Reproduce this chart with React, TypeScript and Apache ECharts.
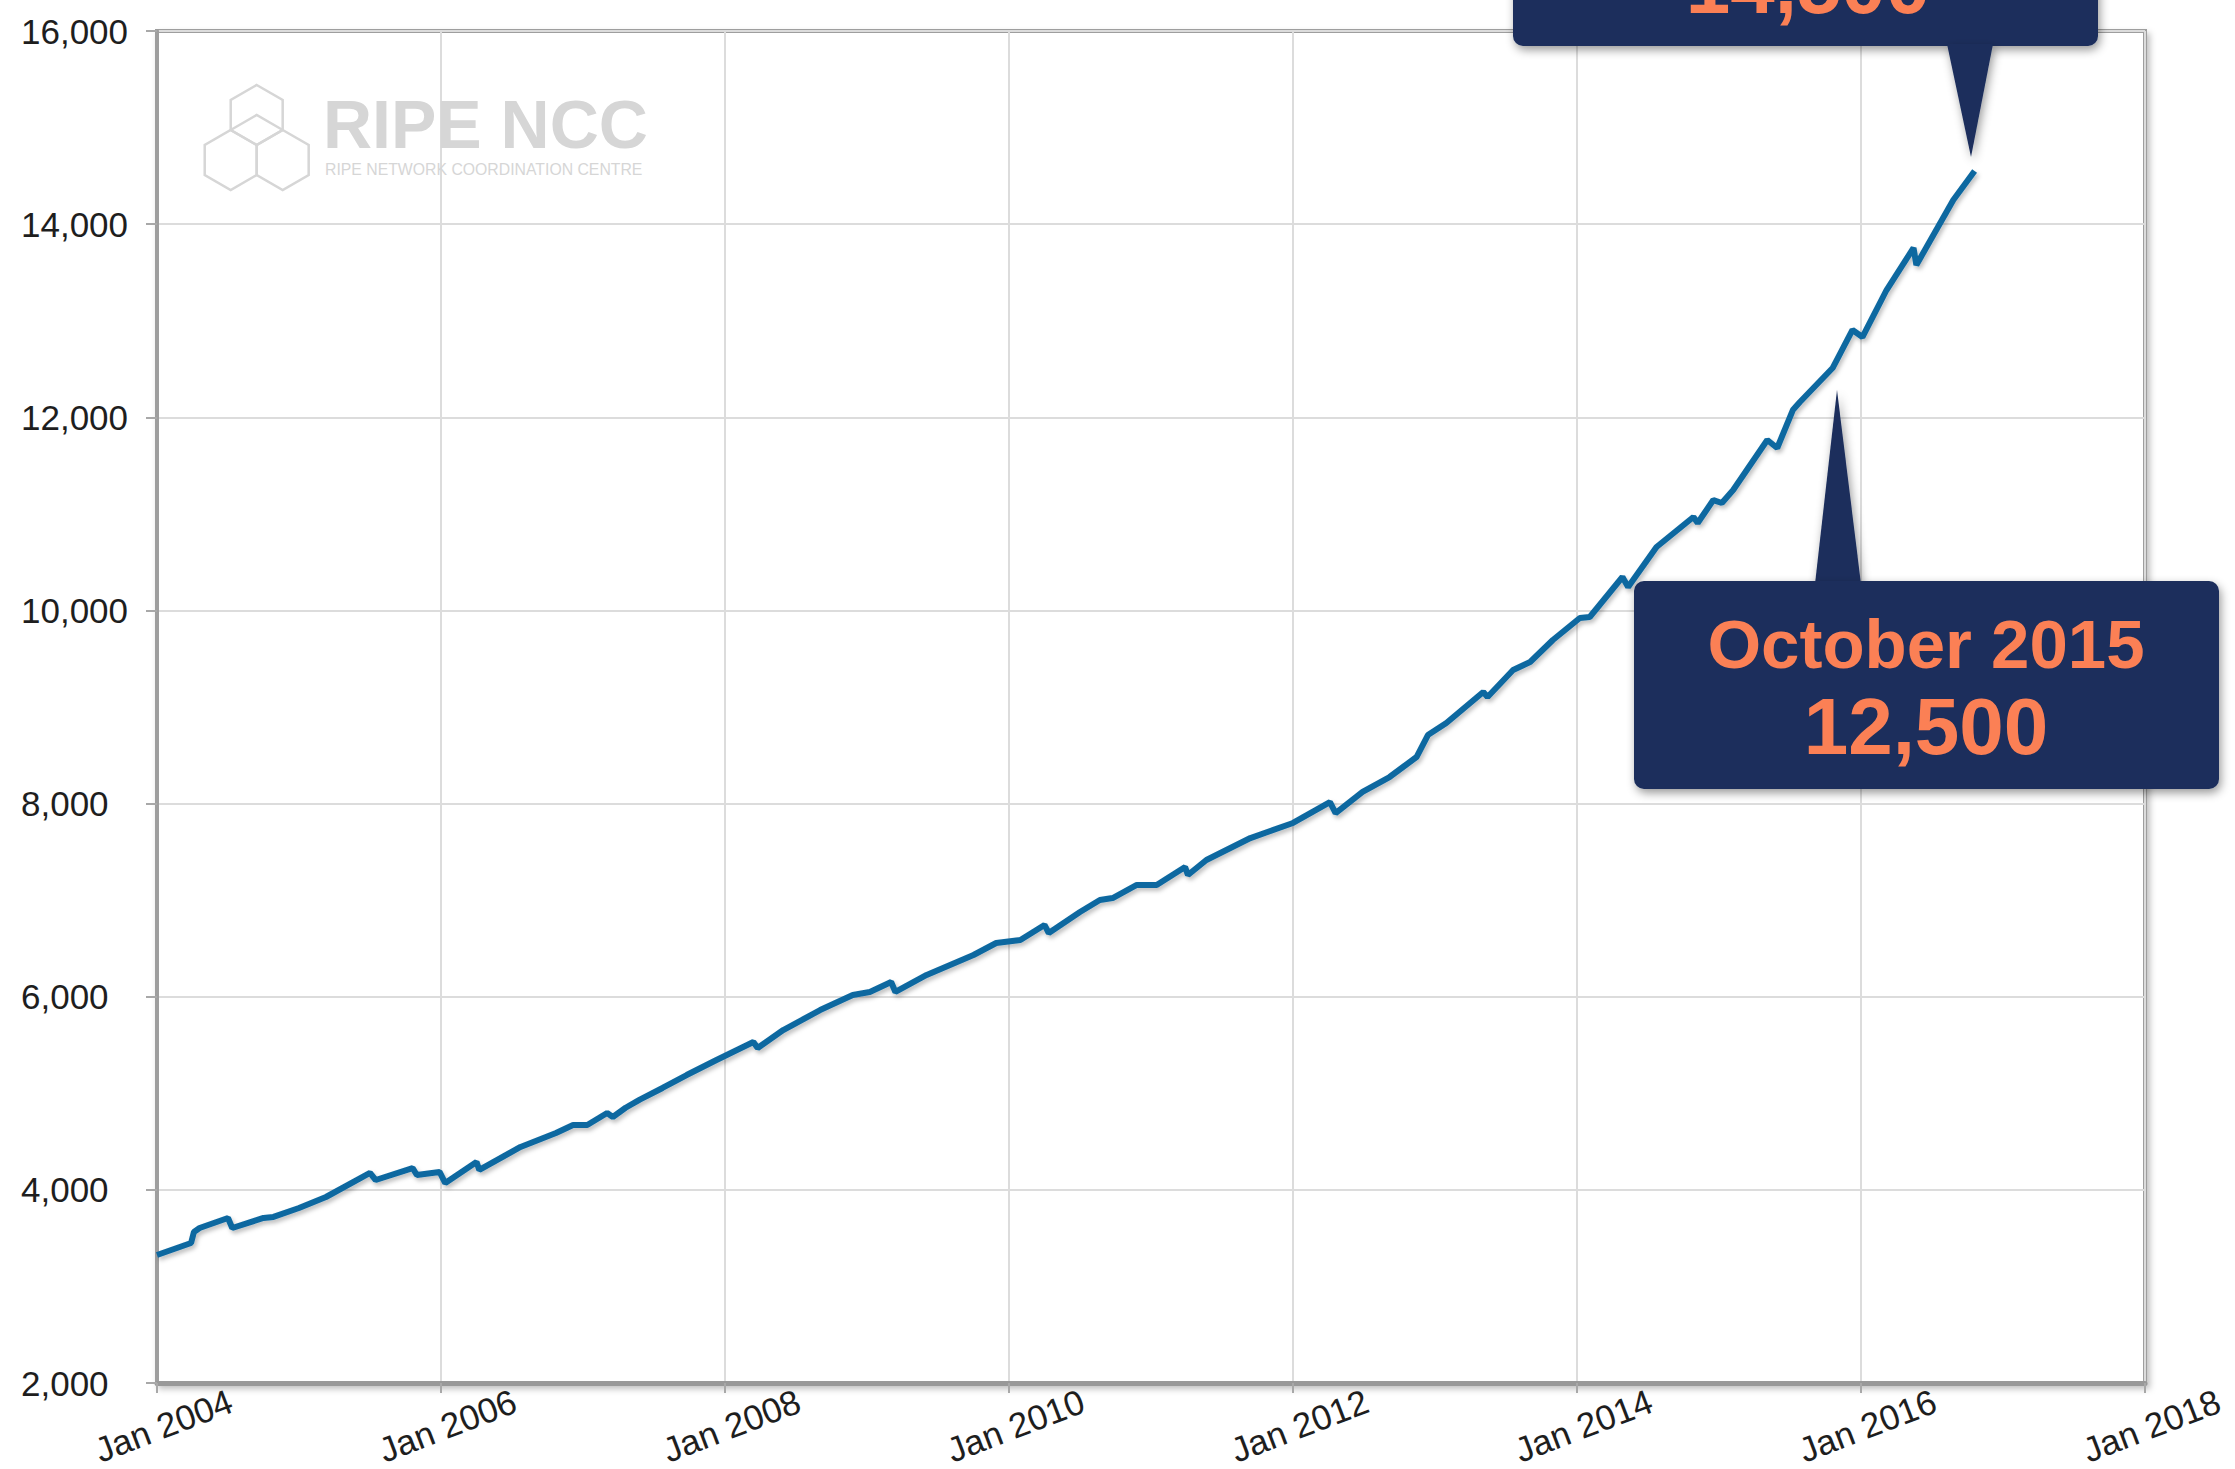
import React, { useEffect, useRef } from "react";
import * as echarts from "echarts";

// ---- Data (decimal year, number of members) ----
const years: number[] = [
  2004.0, 2004.24, 2004.26, 2004.3, 2004.5, 2004.53, 2004.75, 2004.82, 2005.0, 2005.19,
  2005.5, 2005.54, 2005.8, 2005.83, 2005.99, 2006.03, 2006.25, 2006.27, 2006.56, 2006.81,
  2006.93, 2007.03, 2007.17, 2007.21, 2007.3, 2007.4, 2007.56, 2007.73, 2007.94, 2008.2,
  2008.23, 2008.41, 2008.67, 2008.9, 2009.02, 2009.17, 2009.2, 2009.42, 2009.75, 2009.91,
  2010.08, 2010.25, 2010.28, 2010.5, 2010.64, 2010.73, 2010.9, 2011.04, 2011.24, 2011.26,
  2011.39, 2011.7, 2012.0, 2012.26, 2012.3, 2012.49, 2012.68, 2012.87, 2012.95, 2013.08,
  2013.34, 2013.37, 2013.55, 2013.67, 2013.83, 2014.02, 2014.09, 2014.32, 2014.36, 2014.56,
  2014.82, 2014.85, 2014.96, 2015.02, 2015.1, 2015.34, 2015.41, 2015.52, 2015.57, 2015.8,
  2015.94, 2016.01, 2016.18, 2016.37, 2016.39, 2016.65, 2016.8,
];
const members: number[] = [
  3325, 3450, 3564, 3605, 3709, 3605, 3709, 3720, 3812, 3926,
  4175, 4102, 4226, 4154, 4185, 4071, 4289, 4206, 4444, 4589,
  4672, 4672, 4796, 4755, 4850, 4935, 5055, 5189, 5345, 5531,
  5469, 5655, 5862, 6018, 6049, 6152, 6049, 6225, 6432, 6556,
  6587, 6743, 6660, 6877, 7001, 7022, 7157, 7157, 7343, 7260,
  7416, 7643, 7799, 8016, 7902, 8120, 8275, 8482, 8710, 8834,
  9155, 9104, 9383, 9466, 9694, 9922, 9932, 10346, 10243, 10657,
  10967, 10905, 11143, 11112, 11247, 11765, 11682, 12075, 12158, 12510,
  12904, 12831, 13318, 13753, 13577, 14250, 14550,
];

const xTickYears: number[] = [2004, 2006, 2008, 2010, 2012, 2014, 2016, 2018];
const xTickLabels: string[] = ["Jan 2004", "Jan 2006", "Jan 2008", "Jan 2010", "Jan 2012", "Jan 2014", "Jan 2016", "Jan 2018"];
const yTickValues: number[] = [2000, 4000, 6000, 8000, 10000, 12000, 14000, 16000];
const yTickLabels: string[] = ["2,000", "4,000", "6,000", "8,000", "10,000", "12,000", "14,000", "16,000"];

const calloutTopValue = "14,500";
const calloutBottomMonth = "October 2015";
const calloutBottomValue = "12,500";
const logoTitle = "RIPE NCC";
const logoSubtitle = "RIPE NETWORK COORDINATION CENTRE";

// ---- Styling ----
const FONT = '"Liberation Sans", Arial, Helvetica, sans-serif';
const LINE_COLOR = "#0d68a0";
const NAVY = "#1b2d5b";
const ORANGE = "#fb8055";
const LOGO_GREY = "#d6d6d6";
const W = 2235;
const H = 1469;

function hex(cx: number, cy: number, r: number): number[][] {
  const a = r * 0.866;
  return [
    [cx, cy - r],
    [cx + a, cy - r / 2],
    [cx + a, cy + r / 2],
    [cx, cy + r],
    [cx - a, cy + r / 2],
    [cx - a, cy - r / 2],
  ];
}

export default function App() {
  const ref = useRef<HTMLDivElement>(null);

  useEffect(() => {
    if (!ref.current) return;
    const chart = echarts.init(ref.current, undefined, { renderer: "svg", width: W, height: H });

    const logoStroke = { stroke: LOGO_GREY, lineWidth: 2.5, fill: "none" };
    const boxShadow = { shadowBlur: 10, shadowColor: "rgba(0,0,0,0.4)", shadowOffsetX: 2, shadowOffsetY: 4 };

    chart.setOption({
      animation: false,
      backgroundColor: "#ffffff",
      grid: {
        left: 157,
        top: 31,
        right: 90,
        bottom: 86,
        show: true,
        backgroundColor: "#ffffff",
        borderColor: "#9e9e9e",
        borderWidth: 4,
        shadowColor: "rgba(0,0,0,0.25)",
        shadowBlur: 6,
        shadowOffsetX: 3,
        shadowOffsetY: 4,
        outerBoundsMode: "none",
      },
      xAxis: {
        type: "value",
        min: 2004,
        max: 2018,
        interval: 2,
        axisLine: { show: true, lineStyle: { color: "#999999", width: 5 } },
        axisTick: { show: true, length: 10, lineStyle: { color: "#a8a8a8", width: 2 } },
        splitLine: { show: true, lineStyle: { color: "#dcdcdc", width: 2 } },
        axisLabel: {
          show: true,
          showMinLabel: true,
          showMaxLabel: true,
          hideOverlap: false,
          rotate: 21,
          align: "center",
          verticalAlign: "middle",
          margin: 45,
          padding: [0, 0, 0, 14],
          fontSize: 35,
          fontFamily: FONT,
          color: "#1e1e1e",
          formatter: (v: number) => {
            const i = xTickYears.indexOf(Math.round(v));
            return i >= 0 ? xTickLabels[i] : "";
          },
        },
      },
      yAxis: {
        type: "value",
        min: 2000,
        max: 16000,
        interval: 2000,
        axisLine: { show: true, lineStyle: { color: "#9e9e9e", width: 4 } },
        axisTick: { show: true, length: 11, lineStyle: { color: "#a8a8a8", width: 2 } },
        splitLine: { show: true, lineStyle: { color: "#dcdcdc", width: 2 } },
        axisLabel: {
          show: true,
          showMinLabel: true,
          showMaxLabel: true,
          align: "left",
          margin: 136,
          fontSize: 35,
          fontFamily: FONT,
          color: "#1e1e1e",
          formatter: (v: number) => {
            const i = yTickValues.indexOf(Math.round(v));
            return i >= 0 ? yTickLabels[i] : "";
          },
        },
      },
      series: [
        {
          type: "line",
          data: years.map((y, i) => [y, members[i]]),
          showSymbol: false,
          symbol: "none",
          z: 3,
          lineStyle: {
            color: LINE_COLOR,
            width: 6,
            shadowColor: "rgba(0,0,0,0.25)",
            shadowBlur: 4,
            shadowOffsetX: 2,
            shadowOffsetY: 3,
          },
        },
      ],
      graphic: [
        // watermark logo
        { type: "polygon", z: 1, shape: { points: hex(256.7, 115, 30) }, style: logoStroke },
        { type: "polygon", z: 1, shape: { points: hex(230.7, 160, 30) }, style: logoStroke },
        { type: "polygon", z: 1, shape: { points: hex(282.7, 160, 30) }, style: logoStroke },
        { type: "polyline", z: 1, shape: { points: [[230.7, 130], [256.7, 115], [282.7, 130]] }, style: { stroke: LOGO_GREY, lineWidth: 2.5 } },
        {
          type: "text", z: 1, x: 323, y: 124,
          style: { text: logoTitle, font: `bold 68px ${FONT}`, fill: LOGO_GREY, textAlign: "left", textVerticalAlign: "middle" },
        },
        {
          type: "text", z: 1, x: 325, y: 169,
          style: { text: logoSubtitle, font: `15.8px ${FONT}`, fill: LOGO_GREY, textAlign: "left", textVerticalAlign: "middle" },
        },
        // top callout (cut off by the top of the picture)
        {
          type: "rect", z: 10,
          shape: { x: 1513, y: -60, width: 585, height: 106, r: 10 },
          style: { fill: NAVY, ...boxShadow },
        },
        {
          type: "polygon", z: 10,
          shape: { points: [[1947, 44], [1993, 44], [1971, 157]] },
          style: { fill: NAVY, ...boxShadow },
        },
        {
          type: "text", z: 11, x: 1808, y: -15,
          style: { text: calloutTopValue, font: `bold 80px ${FONT}`, fill: ORANGE, textAlign: "center", textVerticalAlign: "middle" },
        },
        // bottom callout
        {
          type: "polygon", z: 10,
          shape: { points: [[1815, 584], [1861, 584], [1837, 390]] },
          style: { fill: NAVY, ...boxShadow },
        },
        {
          type: "rect", z: 10,
          shape: { x: 1634, y: 581, width: 585, height: 208, r: 10 },
          style: { fill: NAVY, ...boxShadow },
        },
        {
          type: "text", z: 11, x: 1926, y: 644,
          style: { text: calloutBottomMonth, font: `bold 69px ${FONT}`, fill: ORANGE, textAlign: "center", textVerticalAlign: "middle" },
        },
        {
          type: "text", z: 11, x: 1926, y: 726,
          style: { text: calloutBottomValue, font: `bold 80px ${FONT}`, fill: ORANGE, textAlign: "center", textVerticalAlign: "middle" },
        },
      ],
    });

    return () => chart.dispose();
  }, []);

  return (
    <div
      ref={ref}
      style={{ position: "fixed", left: 0, top: 0, width: W, height: H, background: "#ffffff" }}
    />
  );
}
